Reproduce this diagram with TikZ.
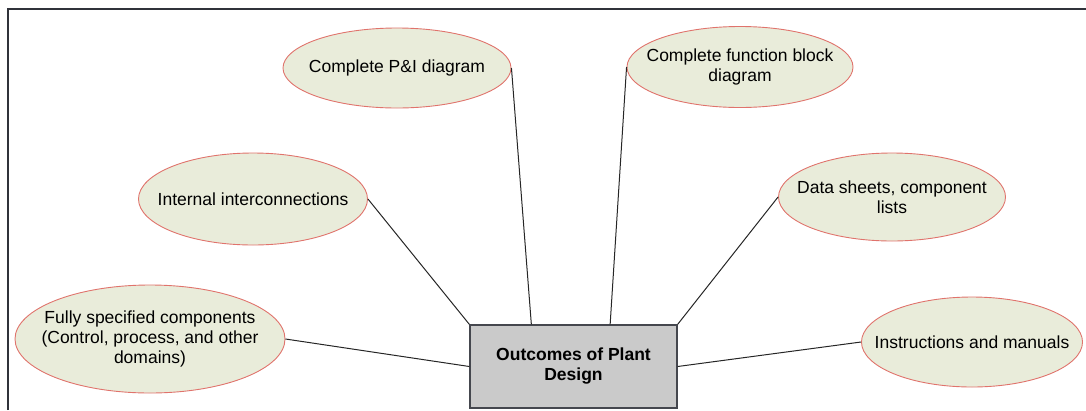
\documentclass[tikz,border=0pt]{standalone}
\usepackage{fontspec}
\setmainfont{Liberation Sans}
\usetikzlibrary{shapes.geometric}
\definecolor{bubblefill}{HTML}{E9ECDA}
\definecolor{bubbleedge}{HTML}{E0736C}
\definecolor{hubfill}{HTML}{CACACA}
\definecolor{framecol}{HTML}{30323A}
\tikzset{
  bubble/.style={ellipse, draw=bubbleedge, line width=0.9pt, fill=bubblefill,
    inner sep=-30pt, align=center, font=\fontsize{17.5}{20}\selectfont},
  hub/.style={rectangle, draw=framecol!90, line width=1.3pt, fill=hubfill,
    minimum width=207pt, minimum height=83pt, inner sep=0pt, align=center,
    font=\fontsize{17.5}{20}\selectfont\bfseries},
  link/.style={draw=black!85, line width=1pt}
}
\begin{document}
\begin{tikzpicture}[x=1pt,y=-1pt]
\useasboundingbox (0,0) rectangle (1086,410);
% page frame (top and left edges)
\draw[framecol, line width=2pt] (8,410) -- (8,9) -- (1086,9);

% central box
\node[hub] (hub) at (573.5,366.5) {Outcomes of Plant\\Design};

% outcome bubbles
\node[bubble, minimum width=228pt, minimum height=80pt] (pid) at (397,68) {Complete P\&I diagram};
\node[bubble, minimum width=226pt, minimum height=81pt] (fbd) at (740,67) {Complete function block\\diagram};
\node[bubble, minimum width=229pt, minimum height=92pt] (inter) at (253,199) {Internal interconnections};
\node[bubble, minimum width=227pt, minimum height=88pt] (data) at (892,197) {Data sheets, component\\lists};
\node[bubble, minimum width=270pt, minimum height=108pt] (comp) at (150,339) {Fully specified components\\(Control, process, and other\\domains)};
\node[bubble, minimum width=221pt, minimum height=90pt] (manu) at (972,342) {Instructions and manuals};

% connectors
\draw[link] (pid.east) -- (hub.135);
\draw[link] (fbd.west) -- (hub.49);
\draw[link] (inter.east) -- (hub.north west);
\draw[link] (data.west) -- (hub.north east);
\draw[link] (comp.east) -- (hub.west);
\draw[link] (manu.west) -- (hub.east);
\end{tikzpicture}
\end{document}
